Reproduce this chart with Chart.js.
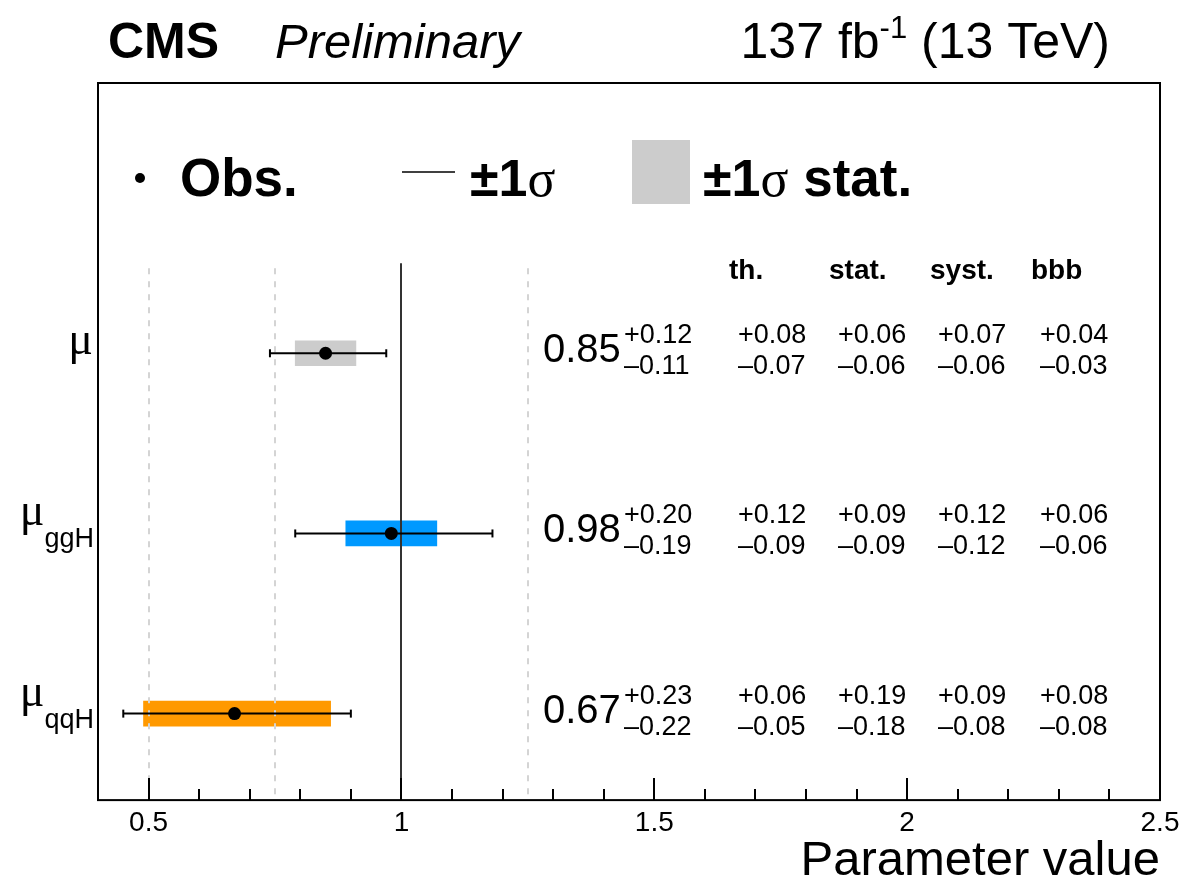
<!DOCTYPE html>
<html>
<head>
<meta charset="utf-8">
<script src="https://cdn.jsdelivr.net/npm/chart.js@4.4.1/dist/chart.umd.min.js"></script>
<style>
body { margin: 0; background: #fff; }
</style>
</head>
<body>
<canvas id="c" width="1181" height="884"></canvas>
<script>
// fit results, one entry per POI (mu, mu_ggH, mu_qqH)
var subs = ['', 'ggH', 'qqH'];
var best = [0.85, 0.98, 0.67];
var totUp = [0.12, 0.20, 0.23];
var totDn = [0.11, 0.19, 0.22];
var thUp = [0.08, 0.12, 0.06];
var thDn = [0.07, 0.09, 0.05];
var statUp = [0.06, 0.09, 0.19];
var statDn = [0.06, 0.09, 0.18];
var systUp = [0.07, 0.12, 0.09];
var systDn = [0.06, 0.12, 0.08];
var bbbUp = [0.04, 0.06, 0.08];
var bbbDn = [0.03, 0.06, 0.08];
var boxColors = ['#cccccc', '#0099ff', '#ff9900'];
var xTicks = [0.5, 1, 1.5, 2, 2.5];
var refLines = [0.5, 0.75, 1.25];
var colHeads = ['th.', 'stat.', 'syst.', 'bbb'];

var SANS = '"Liberation Sans", Arial, sans-serif';
var SERIF = '"Liberation Serif", "Times New Roman", serif';

var datasets = [];
// stat. boxes
datasets.push({
  type: 'bar',
  indexAxis: 'y',
  order: 3,
  data: best.map(function(b, i) { return { y: i, x: [b - statDn[i], b + statUp[i]] }; }),
  backgroundColor: boxColors,
  borderWidth: 0,
  barThickness: 25
});
// total error bars
for (var i = 0; i < best.length; i++) {
  datasets.push({
    type: 'line',
    order: 2,
    data: [{ x: best[i] - totDn[i], y: i }, { x: best[i] + totUp[i], y: i }],
    borderColor: '#000',
    borderWidth: 2,
    pointStyle: 'line',
    pointRotation: 90,
    pointRadius: 4,
    pointBorderWidth: 2,
    pointBorderColor: '#000'
  });
}
// observed points
datasets.push({
  type: 'scatter',
  order: 1,
  data: best.map(function(b, i) { return { x: b, y: i }; }),
  pointRadius: 6.5,
  backgroundColor: '#000',
  borderWidth: 0
});

function fmtUp(v) { return '+' + v.toFixed(2); }
function fmtDn(v) { return '\u2013' + v.toFixed(2); }

var cmsPlugin = {
  id: 'cms',
  afterDatasetDraw: function(chart, args) {
    if (args.meta.type !== 'bar') return;
    var ctx = chart.ctx, a = chart.chartArea, xs = chart.scales.x, ys = chart.scales.y;
    var top = ys.getPixelForValue(-0.5);
    ctx.save();
    ctx.lineWidth = 2;
    ctx.strokeStyle = '#d4d4d4';
    ctx.setLineDash([6, 7]);
    refLines.forEach(function(v) {
      var px = Math.round(xs.getPixelForValue(v));
      ctx.beginPath(); ctx.moveTo(px, top + 5); ctx.lineTo(px, a.bottom); ctx.stroke();
    });
    ctx.setLineDash([]);
    ctx.strokeStyle = '#333';
    var p1 = Math.round(xs.getPixelForValue(1));
    ctx.beginPath(); ctx.moveTo(p1, top); ctx.lineTo(p1, a.bottom); ctx.stroke();
    ctx.restore();
  },
  afterDraw: function(chart) {
    var ctx = chart.ctx, a = chart.chartArea, xs = chart.scales.x, ys = chart.scales.y;
    ctx.save();
    // frame
    ctx.strokeStyle = '#000';
    ctx.lineWidth = 2;
    ctx.strokeRect(a.left, a.top, a.right - a.left, a.bottom - a.top);
    // inward ticks
    for (var k = 5; k <= 25; k++) {
      var px = Math.round(xs.getPixelForValue(k / 10));
      var len = (k % 5 === 0) ? 22 : 11;
      ctx.beginPath(); ctx.moveTo(px, a.bottom); ctx.lineTo(px, a.bottom - len); ctx.stroke();
    }

    ctx.fillStyle = '#000';
    ctx.textBaseline = 'alphabetic';
    ctx.textAlign = 'left';

    // y labels
    subs.forEach(function(sub, i) {
      var py = ys.getPixelForValue(i);
      ctx.font = '46px ' + SERIF;
      var wm = ctx.measureText('\u03bc').width;
      if (!sub) {
        ctx.fillText('\u03bc', 93 - wm, py + 1);
      } else {
        ctx.font = '27px ' + SANS;
        var ws = ctx.measureText(sub).width;
        ctx.fillText(sub, 94 - ws, py + 14);
        ctx.font = '46px ' + SERIF;
        ctx.fillText('\u03bc', 94 - ws - wm, py - 8);
      }
    });

    // table
    var cols = [729, 829, 930, 1031];
    var numCols = [738, 838, 938, 1040];
    ctx.font = 'bold 28px ' + SANS;
    colHeads.forEach(function(h, j) { ctx.fillText(h, cols[j], 279); });
    best.forEach(function(b, i) {
      var py = ys.getPixelForValue(i);
      ctx.font = '40px ' + SANS;
      ctx.fillText(b.toFixed(2), 543, py + 9);
      ctx.font = '27px ' + SANS;
      ctx.fillText(fmtUp(totUp[i]), 624, py - 10);
      ctx.fillText(fmtDn(totDn[i]), 624, py + 21);
      var ups = [thUp[i], statUp[i], systUp[i], bbbUp[i]];
      var dns = [thDn[i], statDn[i], systDn[i], bbbDn[i]];
      for (var j = 0; j < 4; j++) {
        ctx.fillText(fmtUp(ups[j]), numCols[j], py - 10);
        ctx.fillText(fmtDn(dns[j]), numCols[j], py + 21);
      }
    });

    // legend
    ctx.beginPath(); ctx.arc(140, 178, 5, 0, Math.PI * 2); ctx.fill();
    ctx.font = 'bold 53px ' + SANS;
    ctx.fillText('Obs.', 180, 196);
    ctx.lineWidth = 1.5;
    ctx.beginPath(); ctx.moveTo(402, 172); ctx.lineTo(455, 172); ctx.stroke();
    function sigmaText(x, tail) {
      ctx.font = 'bold 52px ' + SANS;
      ctx.fillText('\u00b11', x, 196);
      x += ctx.measureText('\u00b11').width;
      ctx.font = '52px ' + SERIF;
      ctx.fillText('\u03c3', x, 196);
      x += ctx.measureText('\u03c3').width;
      if (tail) {
        ctx.font = 'bold 53px ' + SANS;
        ctx.fillText(tail, x, 196);
      }
    }
    sigmaText(470, '');
    ctx.fillStyle = '#cccccc';
    ctx.fillRect(632, 140, 58, 64);
    ctx.fillStyle = '#000';
    sigmaText(703, ' stat.');

    // header
    ctx.font = 'bold 50px ' + SANS;
    ctx.fillText('CMS', 108, 58);
    ctx.font = 'italic 49px ' + SANS;
    ctx.fillText('Preliminary', 275, 58);
    ctx.font = '50px ' + SANS;
    var w1 = ctx.measureText('137 fb').width, w3 = ctx.measureText(' (13 TeV)').width;
    ctx.font = '31px ' + SANS;
    var w2 = ctx.measureText('-1').width;
    var x0 = 1110 - w1 - w2 - w3;
    ctx.font = '50px ' + SANS;
    ctx.fillText('137 fb', x0, 58);
    ctx.fillText(' (13 TeV)', x0 + w1 + w2, 58);
    ctx.font = '31px ' + SANS;
    ctx.fillText('-1', x0 + w1, 38);
    ctx.restore();
  }
};

new Chart(document.getElementById('c').getContext('2d'), {
  type: 'scatter',
  data: { datasets: datasets },
  options: {
    responsive: false,
    animation: false,
    events: [],
    layout: { padding: { left: 98, right: 21, top: 83, bottom: 8 } },
    plugins: { legend: { display: false }, tooltip: { enabled: false } },
    scales: {
      x: {
        type: 'linear',
        min: 0.4,
        max: 2.5,
        offset: false,
        afterBuildTicks: function(s) { s.ticks = xTicks.map(function(v) { return { value: v }; }); },
        afterFit: function(s) { s.paddingLeft = 0; s.paddingRight = 0; },
        ticks: {
          color: '#000',
          font: { family: SANS, size: 28, lineHeight: 1 },
          padding: 9,
          maxRotation: 0,
          autoSkip: false,
          callback: function(v) { return String(v); }
        },
        grid: { display: false, drawTicks: false },
        border: { display: false },
        title: {
          display: true,
          text: 'Parameter value',
          align: 'end',
          color: '#000',
          font: { family: SANS, size: 49, lineHeight: 0.61 },
          padding: { top: 0, bottom: 0 }
        }
      },
      y: { type: 'linear', min: -1.5, max: 2.48, reverse: true, offset: false, display: false }
    }
  },
  plugins: [cmsPlugin]
});
</script>
</body>
</html>
